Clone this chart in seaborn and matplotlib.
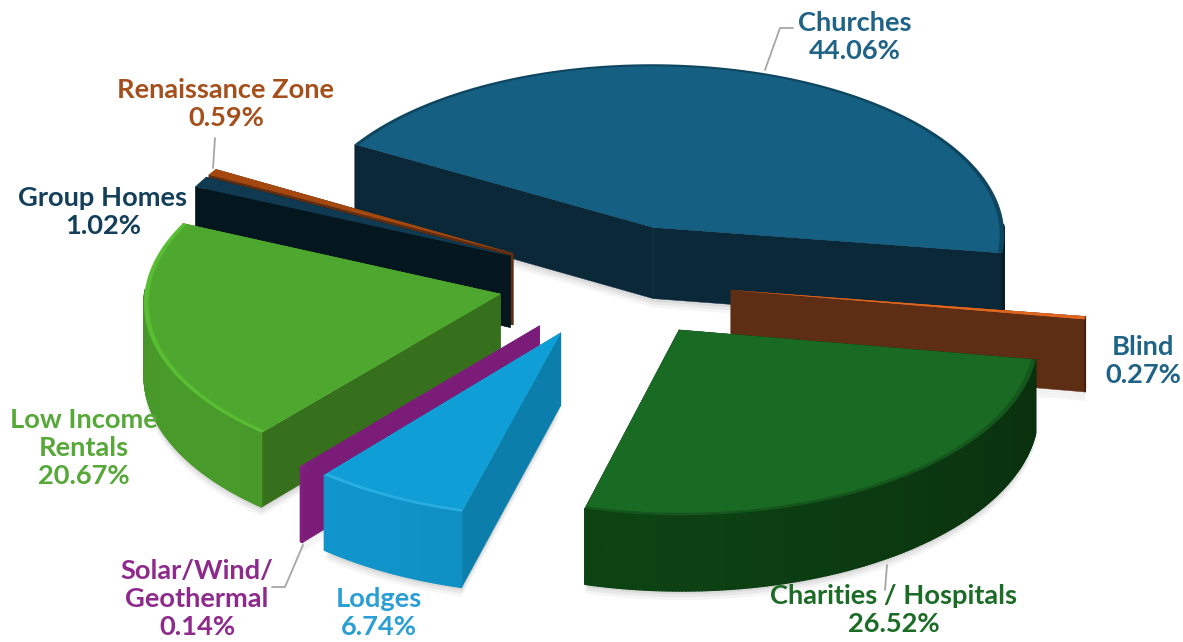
import numpy as np
import matplotlib
matplotlib.use("Agg")
import matplotlib.pyplot as plt
from matplotlib.collections import PolyCollection
from matplotlib.colors import to_rgb
import seaborn as sns

# Share of exempt value by category, clockwise from the first slice
categories = ["Churches", "Blind", "Charities / Hospitals", "Lodges",
              "Solar/Wind/\nGeothermal", "Low Income\nRentals", "Group Homes",
              "Renaissance Zone"]
shares = [44.06, 0.27, 26.52, 6.74, 0.14, 20.67, 1.02, 0.59]

top_colors = ["#156082", "#E0661F", "#196B24", "#0F9ED5", "#7A1C78", "#4EA72E", "#0F3A52", "#A5480F"]
cut_colors = ["#0A2838", "#5E2E14", "#0B3A10", "#0C7EAB", "#7A1C78", "#37701C", "#04171F", "#5E2E14"]
wall_colors = ["#0A2838", "#5E2E14", "#0D4213", "#0F8CBF", "#7A1C78", "#438F27", "#04171F", "#5E2E14"]
rim_colors = ["#0E4660", "#E0661F", "#14561C", "#2AAEE2", "#8A2588", "#58BD33", "#0F3A52", "#A5480F"]
text_colors = ["#1F6387", "#1F6387", "#1C6B26", "#2A9FD6", "#8E2A8C", "#56A838", "#143F5A", "#A5501C"]

label_xy = [(855, 37), (1143, 361), (894, 610), (379, 613), (197, 599), (84, 448), (103, 212), (226, 104)]

START_DEG = 210.0
EXPLODE = 0.33
RADIUS = 355.0
DEPTH = 72.0
CX, CY = 615.0, 281.0
TILT = 0.49
PERSP = 0.04
DEG = np.pi / 180


def project(u, v, z=0.0):
    s = 1.0 / (1.0 - PERSP * np.asarray(v))
    return np.column_stack([CX + RADIUS * np.asarray(u) * s,
                            CY + (RADIUS * TILT * np.asarray(v) + z * DEPTH) * s])


def shade(color, factor):
    return tuple(np.clip(np.array(to_rgb(color)) * factor, 0, 1))


sns.set_theme(style="white")
plt.rcParams["font.family"] = ["Lato", "DejaVu Sans"]

fig = plt.figure(figsize=(11.83, 6.42), dpi=100, facecolor="white")
ax = fig.add_axes([0, 0, 1, 1])
ax.set_xlim(0, 1183)
ax.set_ylim(642, 0)
ax.axis("off")

fractions = np.array(shares) / np.sum(shares)
starts = START_DEG + 360 * np.concatenate([[0], np.cumsum(fractions)[:-1]])
ends = starts + 360 * fractions

# Painter's order: far slices first, nearest slice last
draw_order = [0, 7, 6, 1, 5, 4, 3, 2]

for i in draw_order:
    layer = 2 + draw_order.index(i)
    t0, t1 = starts[i] * DEG, ends[i] * DEG
    mid = (t0 + t1) / 2
    ou, ov = EXPLODE * np.cos(mid), EXPLODE * np.sin(mid)
    arc = np.linspace(t0, t1, max(6, int((ends[i] - starts[i]) * 2)))
    au, av = ou + np.cos(arc), ov + np.sin(arc)

    # Soft contact shadow below the slice
    for grow, alpha in zip((9, 6, 3), (0.04, 0.05, 0.06)):
        pts = np.vstack([project([ou], [ov], 1), project(au, av, 1)])
        ax.add_collection(PolyCollection([pts + [0, grow]], facecolors=[(0, 0, 0, alpha)],
                                         edgecolors="none", zorder=1))

    # Flat cut faces, further one first
    for edge in sorted([0, -1], key=lambda k: av[k]):
        pts = np.vstack([project([ou, au[edge]], [ov, av[edge]], 0),
                         project([au[edge], ou], [av[edge], ov], 1)])
        ax.fill(pts[:, 0], pts[:, 1], color=cut_colors[i], lw=0.3, zorder=layer)

    # Curved outer wall, front-facing strips only, shaded strip by strip
    quads, cols = [], []
    for a in range(len(arc) - 1):
        if np.sin(arc[a]) < -0.02:
            continue
        pts = np.vstack([project(au[a:a + 2], av[a:a + 2], 0),
                         project(au[a:a + 2][::-1], av[a:a + 2][::-1], 1)])
        quads.append(pts)
        light = 0.88 + 0.2 * np.cos(arc[a] - 2.6)
        cols.append(shade(wall_colors[i], light))
    if quads:
        ax.add_collection(PolyCollection(quads, facecolors=cols, edgecolors=cols, linewidths=0.9,
                                         zorder=layer))

    # Top surface with a narrow bevel along the rim
    rim_pts = np.vstack([project([ou], [ov]), project(au, av)])
    ax.fill(rim_pts[:, 0], rim_pts[:, 1], color=rim_colors[i], lw=0, zorder=layer)
    inner = np.vstack([project([ou], [ov]),
                       project(ou + 0.987 * np.cos(arc), ov + 0.987 * np.sin(arc))])
    ax.fill(inner[:, 0], inner[:, 1], color=top_colors[i], lw=0, zorder=layer)

# Leader lines
leaders = [([765, 780, 793], [70, 28, 28]),
           ([213, 215], [168, 138]),
           ([303, 285, 272], [545, 587, 587]),
           ([887, 885], [565, 590])]
for xs, ys in leaders:
    ax.plot(xs, ys, color="#A6A6A6", lw=1.3, zorder=30)

for name, share, (x, y), col in zip(categories, shares, label_xy, text_colors):
    ax.text(x, y, f"{name}\n{share:.2f}%", ha="center", va="center", fontsize=19.6,
            fontweight="bold", color=col, linespacing=1.22, zorder=40)

fig.savefig("out.png", dpi=100, facecolor="white")
